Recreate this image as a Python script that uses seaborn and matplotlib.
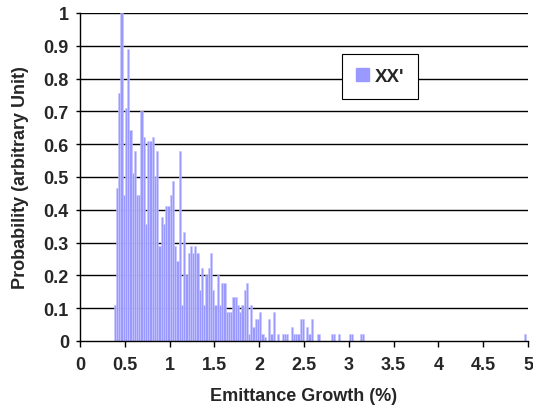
import numpy as np
import pandas as pd
import matplotlib
matplotlib.use("Agg")
import matplotlib.pyplot as plt
import seaborn as sns
from matplotlib.patches import Patch

# ---- data ----
bin_start = 0.375          # left edge of first bin (Emittance Growth, %)
bin_width = 0.025
probability = [
    0.111, 0.467, 0.756, 1.000, 0.444, 0.711, 0.889, 0.644, 0.511, 0.578,
    0.444, 0.444, 0.700, 0.622, 0.356, 0.611, 0.611, 0.622, 0.500, 0.578,
    0.289, 0.378, 0.356, 0.411, 0.411, 0.444, 0.489, 0.289, 0.244, 0.578,
    0.111, 0.333, 0.200, 0.267, 0.289, 0.267, 0.289, 0.267, 0.156, 0.222,
    0.111, 0.200, 0.222, 0.267, 0.156, 0.111, 0.200, 0.111, 0.178, 0.178,
    0.089, 0.089, 0.089, 0.133, 0.133, 0.111, 0.089, 0.111, 0.156, 0.178,
    0.022, 0.111, 0.044, 0.067, 0.067, 0.089, 0.022, 0.011, 0.000, 0.067,
    0.022, 0.089, 0.000, 0.022, 0.000, 0.022, 0.022, 0.022, 0.000, 0.044,
    0.022, 0.022, 0.022, 0.067, 0.067, 0.000, 0.044, 0.022, 0.067, 0.000,
    0.000, 0.022, 0.000, 0.000, 0.000, 0.000, 0.000, 0.022, 0.022, 0.000,
    0.022, 0.000, 0.000, 0.000, 0.000, 0.022, 0.022, 0.000, 0.000, 0.000,
    0.022, 0.022,
]
outlier_bin_left = [4.95]
outlier_probability = [0.022]
series_name = "XX'"
x_ticks = [0, 0.5, 1, 1.5, 2, 2.5, 3, 3.5, 4, 4.5, 5]
x_tick_labels = ["0", "0.5", "1", "1.5", "2", "2.5", "3", "3.5", "4", "4.5", "5"]
y_ticks = [0, 0.1, 0.2, 0.3, 0.4, 0.5, 0.6, 0.7, 0.8, 0.9, 1]
y_tick_labels = ["0", "0.1", "0.2", "0.3", "0.4", "0.5", "0.6", "0.7", "0.8", "0.9", "1"]

# ---- build table ----
idx = np.arange(len(probability))
centers = [float(c) for c in bin_start + bin_width * (idx + 0.5)] + \
          [b + bin_width / 2 for b in outlier_bin_left]
weights = [float(p) for p in probability] + [float(p) for p in outlier_probability]
df = pd.DataFrame({"growth": centers, "prob": weights})
n_bins = int(round((5.0 - bin_start) / bin_width))
edges = [float(bin_start + bin_width * k) for k in range(n_bins + 1)]

sns.set_theme(style="white")
plt.rcParams["font.family"] = ["Liberation Sans", "DejaVu Sans"]

fig = plt.figure(figsize=(5.33, 4.06), dpi=100)
ax = fig.add_axes([80 / 533, 1 - 342 / 406, 448 / 533, 328 / 406])

color = "#9999FF"
sns.histplot(data=df, x="growth", weights="prob", bins=edges,
             color=color, alpha=1.0, edgecolor="#C8C8FF", linewidth=0.4,
             ax=ax, legend=False)

ax.set_xlim(0, 5)
ax.set_ylim(0, 1)
ax.set_axisbelow(True)
for y in y_ticks[1:]:
    ax.axhline(y, color="black", lw=1.0, zorder=0)

fs = 13
ax.set_xticks(x_ticks)
ax.set_xticklabels(x_tick_labels, fontsize=fs, fontweight="bold")
ax.set_yticks(y_ticks)
ax.set_yticklabels(y_tick_labels, fontsize=fs, fontweight="bold")
ax.tick_params(axis="x", direction="out", length=4, width=1, color="black", pad=7, bottom=True)
ax.tick_params(axis="y", direction="out", length=3, width=1, color="black", pad=5, left=True)

for s in ["top", "right"]:
    ax.spines[s].set_visible(False)
for s in ["left", "bottom"]:
    ax.spines[s].set_color("black")
    ax.spines[s].set_linewidth(1.0)

ax.set_xlabel("Emittance Growth (%)", fontsize=fs, fontweight="bold")
ax.set_ylabel("Probability (arbitrary Unit)", fontsize=fs, fontweight="bold")
ax.xaxis.set_label_coords(0.5, -0.14)
ax.yaxis.set_label_coords(-0.114, 0.5)

leg = ax.legend(handles=[Patch(facecolor=color, edgecolor=color, label=series_name)],
                loc="upper left", bbox_to_anchor=(0.584, 0.876), borderaxespad=0,
                frameon=True, fancybox=False, framealpha=1, edgecolor="black",
                prop={"weight": "bold", "size": 13.5}, handlelength=0.7, handleheight=0.7,
                handletextpad=0.3, borderpad=0.75)
leg.get_frame().set_linewidth(0.8)

fig.savefig("out.png", dpi=100, facecolor="white")
